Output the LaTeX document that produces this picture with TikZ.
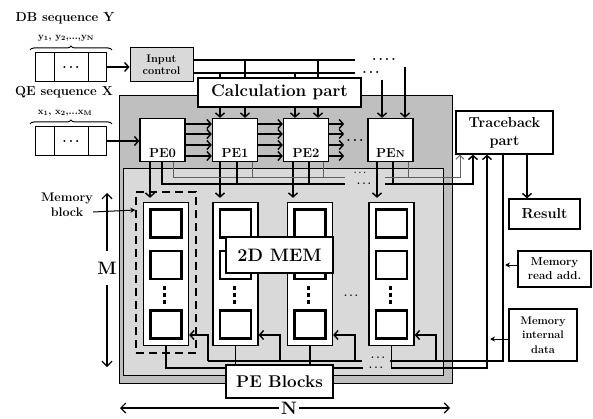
\documentclass[tikz,border=0pt]{standalone}
\usepackage{tikz}
\usetikzlibrary{arrows.meta,positioning,calc,decorations.pathreplacing}
\definecolor{cOut}{HTML}{BFBFBF}
\definecolor{cIn}{HTML}{D9D9D9}
\definecolor{cBus}{HTML}{5F5F5F}
\newcommand{\fsz}[2]{\fontsize{#1}{#2}\selectfont\bfseries}
\newcommand{\ddd}{.\kern2pt.\kern2pt.}
\tikzset{
  lbl/.style={inner sep=0pt,align=center},
  box/.style={draw,line width=1.3pt,fill=white,inner sep=0pt,align=center},
  pebox/.style={box,minimum width=45pt,minimum height=43pt},
  pelbl/.style={anchor=south,inner sep=0pt,yshift=4pt,font=\fsz{13}{13}},
  colbox/.style={box,minimum width=45pt,minimum height=143pt},
  cellbox/.style={draw,line width=2.6pt,fill=white,minimum width=31pt,minimum height=28pt,inner sep=0pt},
  seqcell/.style={draw,line width=1pt,fill=white,minimum height=29pt,inner sep=0pt,outer sep=0pt},
  bigbox/.style={box,font=\fsz{17}{19}},
  brc/.style={line width=1pt,decorate,decoration={brace,amplitude=4pt}},
  wire/.style={line width=1.4pt},
  gbus/.style={line width=0.9pt,cBus},
  arr/.style={wire,-{Straight Barb[length=4pt,width=9pt]}},
  garr/.style={gbus,-{Straight Barb[length=4pt,width=8pt]}},
  sarr/.style={line width=1pt,-{Stealth[length=5pt,width=5pt]}},
  darr/.style={line width=1.2pt,-{Straight Barb[length=5pt,width=10pt]}},
}

\begin{document}
\begin{tikzpicture}[x=1pt,y=-1pt]
\useasboundingbox (0,0) rectangle (593,419);
% input sequences
\node[lbl,font=\fsz{13}{13}] (dbname) at (65,18) {DB sequence Y};
\node[lbl,font=\fsz{9.5}{10}] (dbsym) at (66,38) {y\textsubscript{1}, y\textsubscript{2},...,y\textsubscript{N}};
\draw[brc] (30,50) -- (112,50);
\node[seqcell,minimum width=19pt] (dbA) at (44.5,67) {};
\node[seqcell,minimum width=34pt,right=0pt of dbA] (dbB) {\fsz{14}{14}\ddd};
\node[seqcell,minimum width=18pt,right=0pt of dbB] (dbC) {};
\node[box,fill=cIn,line width=1pt,minimum width=63pt,minimum height=34pt,font=\fsz{11}{12}] (inctl) at (161.5,65) {Input\\control};
\draw[arr] (dbC.east) -- (dbC.east -| inctl.west);

\node[lbl,font=\fsz{13}{13}] (qename) at (64,92) {QE sequence X};
\node[lbl,font=\fsz{9.5}{10}] (qesym) at (65,113) {x\textsubscript{1}, x\textsubscript{2},...x\textsubscript{M}};
\draw[brc] (30,124) -- (112,124);
\node[seqcell,minimum width=19pt] (qeA) at (44.5,141) {};
\node[seqcell,minimum width=34pt,right=0pt of qeA] (qeB) {\fsz{14}{14}\ddd};
\node[seqcell,minimum width=18pt,right=0pt of qeB] (qeC) {};

% calculation area
\draw[fill=cOut,line width=1pt] (119,96) rectangle (452,383);
\draw[fill=cIn,line width=1pt] (123,169) rectangle (443,375);

\foreach \p/\x/\pname in {pe0/162.5/PE0, pe1/235/PE1, pe2/306/PE2, pen/390.5/PE{\fsz{10}{10}N}}
  \node[pebox,label={[pelbl]south:\pname}] (\p) at (\x,140) {};
\draw[arr] (qeC.east) -- (qeC.east -| pe0.west);
\foreach \a/\b in {pe0/pe1,pe1/pe2}
  \foreach \dy in {-16,-6,5,16}
    \draw[arr] ($(\a.east)+(0,\dy)$) -- ($(\b.west)+(0,\dy)$);
\foreach \dy in {-16,-6,5,16}
  \draw[arr] ($(pe2.east)+(0,\dy)$) -- ++(15,0);
\node[lbl,font=\fsz{14}{14}] (pedots) at (355,140) {\ddd};

% control lines
\draw[wire] (inctl.east |- 0,60) -- (355,60);
\draw[wire] (inctl.east |- 0,73) -- (355,73);
\node[lbl,font=\fsz{14}{14}] (topdots) at (384,59) {\ddd\kern2pt.};
\node[lbl,font=\fsz{14}{14}] (middots) at (371,72) {\ddd};
\foreach \x/\y/\p in {220/73/pe1, 245/60/pe1, 295/73/pe2, 318/60/pe2, 382/80/pen, 405/67/pen}
  \draw[arr] (\x,\y) -- (\x,0 |- \p.north);
\node[bigbox,minimum width=163pt,minimum height=29pt] (calc) at (279.5,92.5) {Calculation part};

% memory columns
\foreach \c/\x in {col1/166,col2/235.5,col3/310,coln/391.5} {
  \node[colbox] (\c) at (\x,274) {};
  \foreach \k/\y in {a/223.5,b/265,c/324.5}
    \node[cellbox] (\c-\k) at (\x,\y) {};
  \foreach \j in {0,1,2}
    \fill (\x-3,286+\j*7) rectangle ++(3,3.5);
}
\node[draw,line width=1.3pt,dash pattern=on 8pt off 5pt,minimum width=60pt,minimum height=161pt] (mblk) at (166,272.5) {};
\node[lbl,font=\fsz{11}{11}] (coldots) at (351,296) {\ddd};
\node[lbl,font=\fsz{12.5}{15}] (mblab) at (67,205) {Memory\\block};
\draw[sarr] (mblab.east |- 0,212) -- (mblk.west |- 0,210);

% PE outputs
\foreach \p/\c/\a in {pe0/col1/150, pe1/col2/220, pe2/col3/293, pen/coln/377}
  \draw[arr,shorten >=4pt] (\a,0 |- \p.south) -- (\a,0 |- \c.north);
\draw[gbus] (173,0 |- pe0.south) |- (345,177);
\draw[gbus] (252,0 |- pe1.south) -- (252,177);
\draw[gbus] (323,0 |- pe2.south) -- (323,177);
\draw[gbus] (408,0 |- pen.south) -- (408,177);
\draw[wire] (162,0 |- pe0.south) |- (345,184);
\draw[wire] (237,0 |- pe1.south) -- (237,184);
\draw[wire] (309,0 |- pe2.south) -- (309,184);
\draw[wire] (393,0 |- pen.south) -- (393,184);
\node[lbl,font=\fsz{8}{8}] (gdots) at (360,173) {\ddd};
\node[lbl,font=\fsz{11}{11}] (bdots) at (364,184) {\ddd};

% traceback side
\node[box,minimum width=97pt,minimum height=43pt,font=\fsz{14.5}{18}] (tb) at (504.5,132.5) {Traceback\\part};
\node[box,minimum width=71pt,minimum height=30pt,font=\fsz{14.5}{14.5}] (res) at (544.5,214) {Result};
\node[box,minimum width=73pt,minimum height=36pt,font=\fsz{11.5}{14}] (mra) at (554.5,269) {Memory\\read add.};
\node[box,minimum width=68pt,minimum height=52pt,font=\fsz{11}{14.5}] (mid) at (543,335) {Memory\\internal\\data};
\draw[garr] (385,177) -| (tb.south -| 460,0);
\draw[arr] (385,184) -| (tb.south -| 473,0);
\draw[arr] (tb.south -| 527,0) -- (res.north -| 527,0);

% memory buses
\draw[wire] (col1.south) |- (363,368);
\draw[wire] (col2.south) -- ++(0,22);
\draw[wire] (col3.south) -- ++(0,22);
\draw[arr] (coln.south) |- (487,368) -- (tb.south -| 487,0);
\draw[wire] (208,361) -- (362,361);
\draw[arr] (208,361) |- (col1.east |- 0,335);
\draw[arr] (280,361) |- (col2.east |- 0,335);
\draw[arr] (355,361) |- (col3.east |- 0,335);
\draw[wire] (390,361) -- (436,361);
\draw[arr] (tb.south -| 503,0) |- (436,361) |- (coln.east |- 0,335);
\node[lbl,font=\fsz{11}{11}] (rdots) at (378,358) {\ddd};
\node[lbl,font=\fsz{11}{11}] (wdots) at (376,368) {\ddd};
\draw[sarr] (mra.west |- 0,265) -- (505,265);
\draw[sarr] (mid.west |- 0,339) -- (490,339);

\node[bigbox,font=\fsz{18}{20},minimum width=107pt,minimum height=36pt] (mem2d) at (279.5,255) {2D MEM};
\node[bigbox,minimum width=107pt,minimum height=33pt] (peblk) at (279.5,381.5) {PE Blocks};

% dimensions
\node[lbl,inner ysep=11pt,font=\fsz{18}{18}] (mlab) at (107,268) {M};
\draw[darr] (mlab) -- (107,193);
\draw[darr] (mlab) -- (107,367);
\node[lbl,inner xsep=2pt,font=\fsz{18}{18}] (nlab) at (289,408) {N};
\draw[darr] (nlab) -- (120,408);
\draw[darr] (nlab) -- (450,408);
\end{tikzpicture}
\end{document}
